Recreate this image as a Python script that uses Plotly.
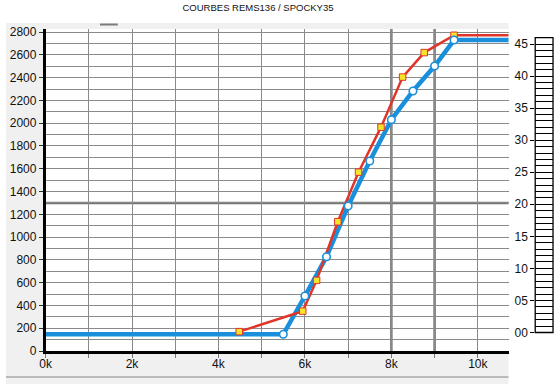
import plotly.graph_objects as go

# ---- data ----
title_text = "COURBES REMS136 / SPOCKY35"

blue_x = [0, 5500, 6000, 6500, 7000, 7500, 8000, 8500, 9000, 9450, 11000]
blue_y = [147, 147, 483, 828, 1273, 1668, 2031, 2283, 2502, 2730, 2730]

red_x = [4480, 5950, 6270, 6760, 7240, 7760, 8260, 8760, 9450, 11000]
red_y = [170, 350, 620, 1135, 1570, 1965, 2405, 2620, 2772, 2772]

x_tickvals = [0, 2000, 4000, 6000, 8000, 10000]
x_ticktext = ["0k", "2k", "4k", "6k", "8k", "10k"]
y_tickvals = list(range(0, 2801, 200))
scale_major = list(range(0, 46, 5))
scale_minor = [v for v in range(0, 47) if v % 5 != 0]

# ---- layout geometry ----
W, H = 555, 384
TOP, BOT = 29, 351          # plot area pixel rows
PLOT_L, PLOT_R = 40, 508     # plot area pixel columns
LAD_L, LAD_R = 535, 553      # right scale "ladder"

def px(x):
    return x / W

def py(y):
    return (BOT - y) / (BOT - TOP)

BLUE = "#1a8fdc"
RED = "#e2352a"
GRID = "#8a8a8a"
FONT = "Liberation Sans, Arial, sans-serif"

fig = go.Figure()

fig.add_trace(go.Scatter(x=blue_x, y=blue_y, mode="lines",
                         line=dict(color=BLUE, width=4.5), hoverinfo="skip",
                         showlegend=False))
fig.add_trace(go.Scatter(x=red_x, y=red_y, mode="lines",
                         line=dict(color=RED, width=2.5), hoverinfo="skip",
                         showlegend=False))
fig.add_trace(go.Scatter(x=red_x[:-1], y=red_y[:-1], mode="markers",
                         marker=dict(symbol="square", size=6.5, color="#f5e42a",
                                     line=dict(color=RED, width=1)),
                         showlegend=False))
fig.add_trace(go.Scatter(x=blue_x[1:-1], y=blue_y[1:-1], mode="markers",
                         marker=dict(symbol="circle", size=7.5, color="white",
                                     line=dict(color=BLUE, width=1.6)),
                         showlegend=False))

shapes = [
    # gray panel behind the chart
    dict(type="rect", xref="paper", yref="paper", x0=0, x1=px(PLOT_R),
         y0=py(384), y1=py(23), fillcolor="#f0f0f0", line=dict(width=0),
         layer="below"),
    # white plot area
    dict(type="rect", xref="paper", yref="paper", x0=px(PLOT_L), x1=px(PLOT_R),
         y0=0, y1=1, fillcolor="white", line=dict(width=0), layer="below"),
    # separator line at the bottom
    dict(type="line", xref="paper", yref="paper", x0=0, x1=px(PLOT_R),
         y0=py(377), y1=py(377), line=dict(color="#a8a8a8", width=1.5),
         layer="below"),
    # small gray dash on the top
    dict(type="line", xref="paper", yref="paper", x0=px(95), x1=px(113),
         y0=py(24.5), y1=py(24.5), line=dict(color="#7a7a7a", width=2),
         layer="below"),
    # thicker reference grid lines
    dict(type="line", xref="x", yref="y domain", x0=8000, x1=8000, y0=0, y1=1,
         line=dict(color="#747474", width=2.5), layer="below"),
    dict(type="line", xref="x", yref="y domain", x0=9000, x1=9000, y0=0, y1=1,
         line=dict(color="#747474", width=2.5), layer="below"),
    dict(type="line", xref="x domain", yref="y", x0=0, x1=1, y0=1300, y1=1300,
         line=dict(color="#747474", width=2.5), layer="below"),
    # ladder box
    dict(type="rect", xref="x2 domain", yref="y2", x0=0, x1=1, y0=0, y1=46,
         line=dict(color="black", width=1.3), fillcolor="rgba(0,0,0,0)"),
]

fig.update_layout(
    width=W, height=H, autosize=False,
    margin=dict(l=0, r=0, t=TOP, b=H - BOT, pad=0),
    paper_bgcolor="white", plot_bgcolor="rgba(0,0,0,0)",
    font=dict(family=FONT, size=12, color="#111"),
    title=dict(text=title_text, xref="container", yref="container",
               x=258 / W, y=1 - 8 / H, xanchor="center", yanchor="middle",
               font=dict(family=FONT, size=9.5, color="#111")),
    shapes=shapes,
    showlegend=False,
    xaxis=dict(domain=[px(PLOT_L), px(PLOT_R)], range=[0, 10710],
               tickvals=x_tickvals, ticktext=x_ticktext, ticks="",
               showgrid=True, gridcolor=GRID, gridwidth=1,
               minor=dict(dtick=1000, tick0=0, showgrid=True, gridcolor=GRID,
                          gridwidth=1, ticks="outside", ticklen=4,
                          tickcolor="#777"),
               showline=True, linecolor="black", linewidth=2.5,
               zeroline=False, anchor="y", fixedrange=True,
               tickfont=dict(size=12)),
    yaxis=dict(domain=[0, 1], range=[0, 2827], tickvals=y_tickvals,
               ticks="outside", ticklen=4, tickcolor="#333",
               showgrid=True, gridcolor=GRID, gridwidth=1,
               minor=dict(dtick=100, tick0=0, showgrid=True, gridcolor=GRID,
                          gridwidth=1),
               showline=True, linecolor="black", linewidth=2.5,
               zeroline=False, anchor="x", fixedrange=True,
               tickfont=dict(size=12)),
    xaxis2=dict(domain=[px(LAD_L), px(LAD_R)], range=[0, 1], visible=False,
                anchor="y2", fixedrange=True),
    yaxis2=dict(domain=[0, 1], range=[-2.89, 47.35], anchor="x2", side="left",
                tickvals=scale_major, tickformat="02d",
                ticks="outside", ticklen=4, tickcolor="black",
                showgrid=True, gridcolor="black", gridwidth=1,
                minor=dict(tickvals=scale_minor, showgrid=True,
                           gridcolor="black", gridwidth=1),
                showline=False, zeroline=False, fixedrange=True,
                tickfont=dict(size=12)),
)

fig.write_html("out.html", config={"displayModeBar": False},
               post_script="document.body.style.margin='0px';"
                           "document.body.style.overflow='hidden';")
